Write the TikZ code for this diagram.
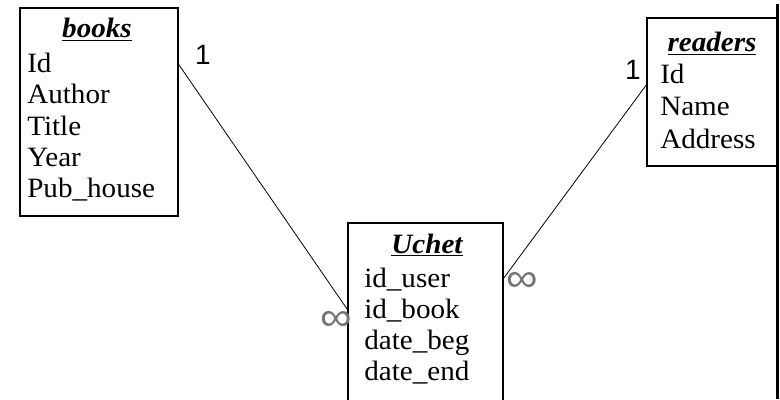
\documentclass[tikz,border=0pt]{standalone}
\usepackage{fontspec}
\setmainfont{Liberation Serif}[FakeStretch=1.04]
\newfontfamily\cardfont{Liberation Sans}
\usetikzlibrary{positioning}

\tikzset{
  tabla/.style={draw, line width=1pt, inner sep=0pt, outer sep=0pt, anchor=north west},
  titulo/.style={inner sep=0pt, anchor=base, font=\fontsize{21}{25}\selectfont\bfseries\itshape},
  campo/.style={inner sep=0pt, anchor=base west, font=\fontsize{21}{25}\selectfont},
  card/.style={inner sep=0pt, font=\fontsize{21}{24}\selectfont\cardfont},
  infin/.style={inner sep=0pt, text=black!55, font=\fontsize{17}{20}\selectfont\cardfont}
}
\newcommand{\infsym}{\scalebox{1.95}[1.75]{∞}}

\begin{document}
\begin{tikzpicture}[x=0.75pt, y=-0.75pt]
\clip (0,0) rectangle (780,399);

% Tablas
\node[tabla, minimum width=118.5pt, minimum height=156pt] (books) at (20,8) {};
\node[tabla, minimum width=97.5pt, minimum height=111pt] (readers) at (647,18) {};
\node[tabla, minimum width=116.25pt, minimum height=145pt] (uchet) at (348,223) {};

% Bordes gruesos del escaneo
\draw[line width=2.2pt] (books.north west) -- (books.south west);
\draw[line width=1.6pt] (books.south west) -- (books.south east);
\draw[line width=2.2pt] (777.5,4) -- (777.5,399);

% Titulos
\node[titulo] (books-t) at (97,38) {\underline{books}};
\node[titulo] (readers-t) at (712,52) {\underline{readers}};
\node[titulo] (uchet-t) at (427,253) {\underline{Uchet}};

% Campos
\foreach \nombre [count=\i] in {Id,Author,Title,Year,Pub\_house}
  \node[campo] (b\i) at (27,{73+31*(\i-1)}) {\nombre};
\foreach \nombre [count=\i] in {Id,Name,Address}
  \node[campo] (r\i) at (660,{84+32*(\i-1)}) {\nombre};
\foreach \nombre [count=\i] in {id\_user,id\_book,date\_beg,date\_end}
  \node[campo] (u\i) at (364,{287+31.3*(\i-1)}) {\nombre};

% Relaciones
\draw[line width=0.6pt] (books.east |- b1) -- (uchet.west |- u2);
\draw[line width=0.6pt] (readers.west |- r1.base) -- (uchet.east |- u1);

% Cardinalidades
\node[card] (c1) at (203,55) {1};
\node[card] (c2) at (633,70) {1};
\node[infin] (c3) at (336,321) {\infsym};
\node[infin] (c4) at (522,282) {\infsym};
\end{tikzpicture}
\end{document}
